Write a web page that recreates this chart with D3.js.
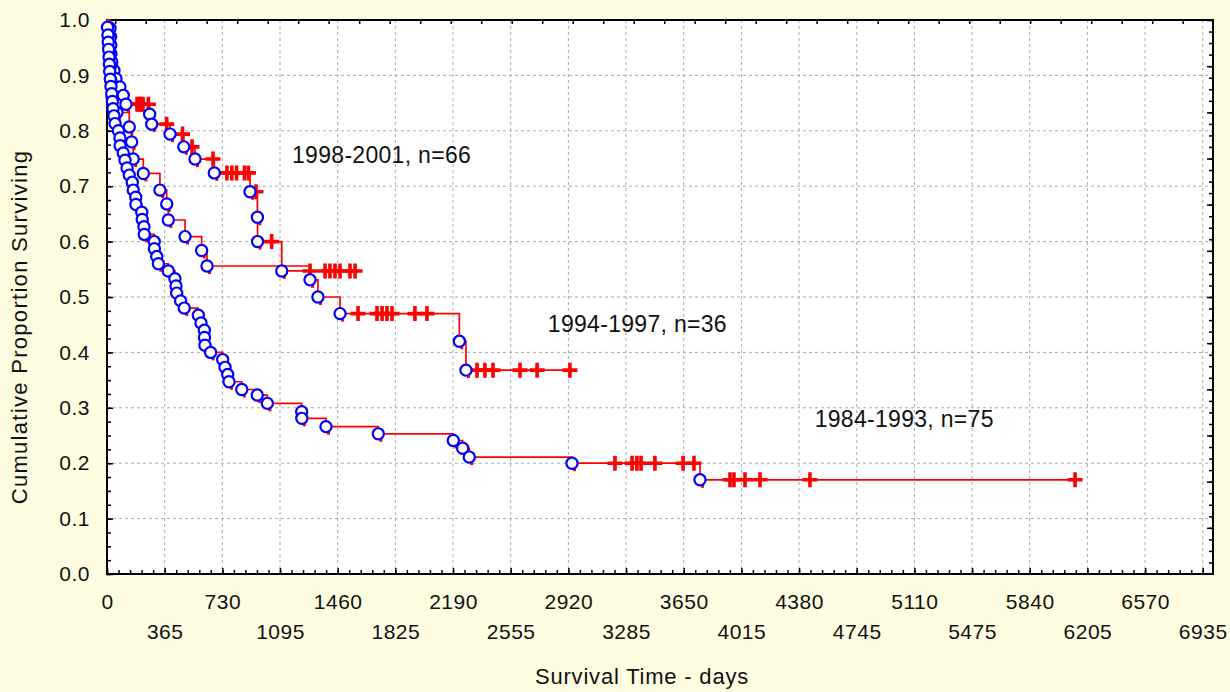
<!DOCTYPE html>
<html>
<head>
<meta charset="utf-8">
<script src="https://cdn.jsdelivr.net/npm/d3@7"></script>
<style>
  body { margin: 0; background: #fffde1; }
  svg { display: block; }
  text { font-family: "Liberation Sans", Arial, sans-serif; fill: #111; }
</style>
</head>
<body>
<script>
// Kaplan-Meier steps: [day, survival after the event]
const deaths98 = [[19,.985],[23,.970],[24,.955],[25,.939],[30,.924],[44,.909],[57,.894],[82,.879],[103,.864],[120,.848],
  [270,.830],[283,.812],[399,.794],[486,.771],[557,.749],[679,.724],[905,.690],[952,.644],[953,.600],[1106,.547]]
const censored98 = [[190,.848],[203,.848],[215,.848],[228,.848],[262,.848],[378,.812],[478,.794],[538,.771],[671,.749],
  [759,.724],[790,.724],[820,.724],[870,.724],[895,.724],[943,.690],[1042,.600],
  [1285,.547],[1380,.547],[1411,.547],[1443,.547],[1475,.547],[1538,.547],[1570,.547]]

const deaths94 = [[9,.972],[16,.944],[22,.917],[26,.889],[32,.861],[63,.833],[141,.807],[156,.780],[166,.749],[230,.723],
  [335,.693],[378,.668],[388,.639],[494,.609],[599,.584],[633,.556],[1285,.531],[1335,.500],[1475,.470],[2230,.420],[2272,.368]]
const censored94 = [[1589,.47],[1709,.47],[1741,.47],[1772,.47],[1804,.47],[1949,.47],[2025,.47],
  [2342,.368],[2392,.368],[2443,.368],[2614,.368],[2722,.368],[2930,.368]]

const deaths84 = [[3,.987],[6,.973],[8,.960],[10,.947],[13,.933],[15,.920],[17,.907],[21,.893],[25,.880],[30,.867],
  [34,.853],[38,.840],[44,.827],[51,.813],[72,.800],[82,.787],[83,.773],[103,.760],[114,.747],[127,.733],[141,.720],
  [160,.707],[166,.693],[182,.680],[183,.667],[220,.653],[223,.640],[234,.627],[236,.613],[299,.600],[300,.587],
  [315,.573],[325,.560],[388,.547],[430,.533],[437,.520],[441,.507],[466,.493],[489,.480],[578,.467],[595,.453],
  [616,.440],[617,.427],[620,.413],[656,.400],[732,.387],[747,.373],[764,.360],[772,.347],[853,.333],[951,.323],
  [1015,.308],[1232,.293],[1233,.281],[1386,.266],[1717,.253],[2192,.241],[2251,.227],[2293,.211],[2943,.200],[3753,.170]]
const censored84 = [[3215,.2],[3323,.2],[3354,.2],[3380,.2],[3468,.2],[3646,.2],[3715,.2],
  [3943,.17],[3968,.17],[4038,.17],[4133,.17],[4449,.17],[6127,.17]]

const groups = [
  { label: '1998-2001, n=66', deaths: deaths98, censored: censored98, at: [1171, 0.741] },
  { label: '1994-1997, n=36', deaths: deaths94, censored: censored94, at: [2790, 0.437] },
  { label: '1984-1993, n=75', deaths: deaths84, censored: censored84, at: [4479, 0.265] }
]

const xTicks = d3.range(0, 6936, 365)
const yTicks = d3.range(0, 1.01, 0.1)

const w = 1230
const h = 692
const m = { left: 107, top: 20, right: 1213, bottom: 574 }

const svg = d3.select('body').append('svg')
  .attr('width', w)
  .attr('height', h)

svg.append('rect')
  .attr('x', m.left).attr('y', m.top)
  .attr('width', m.right - m.left).attr('height', m.bottom - m.top)
  .attr('fill', '#fff')

const x = d3.scaleLinear().domain([0, 7000]).range([m.left, m.right])
const y = d3.scaleLinear().domain([0, 1]).range([m.bottom, m.top])

// grid
svg.append('g').selectAll('line')
  .data(xTicks.slice(1))
  .join('line')
  .attr('x1', d => x(d)).attr('x2', d => x(d))
  .attr('y1', m.top).attr('y2', m.bottom)
  .attr('stroke', '#aaa').attr('stroke-dasharray', '3,3')

svg.append('g').selectAll('line')
  .data(yTicks.slice(1, -1))
  .join('line')
  .attr('x1', m.left).attr('x2', m.right)
  .attr('y1', d => y(d)).attr('y2', d => y(d))
  .attr('stroke', '#aaa').attr('stroke-dasharray', '3,3')

// axes
svg.append('g')
  .attr('transform', `translate(${m.left},0)`)
  .call(d3.axisLeft(y).tickValues(yTicks).tickSize(-6).tickPadding(17).tickFormat(d3.format('.1f')))
svg.append('g')
  .attr('transform', `translate(${m.left},0)`)
  .call(d3.axisLeft(y).tickValues(d3.range(0, 1, 0.025)).tickSize(-4).tickFormat(''))

const xAxis = svg.append('g')
  .attr('transform', `translate(0,${m.bottom})`)
  .call(d3.axisBottom(x).tickValues(xTicks).tickSize(-6).tickFormat(d3.format('d')))
xAxis.selectAll('text')
  .attr('y', (d, i) => i % 2 ? 65 : 35)
  .attr('dy', 0)
svg.append('g')
  .attr('transform', `translate(0,${m.bottom})`)
  .call(d3.axisBottom(x).tickValues(d3.range(0, 7000, 73)).tickSize(-4).tickFormat(''))

const topScale = d3.scaleLinear().domain([0, 35]).range([115.2, 1182.7])
svg.append('g')
  .attr('transform', `translate(0,${m.top})`)
  .call(d3.axisTop(topScale).tickValues(d3.range(0, 36)).tickSize(-4).tickFormat(''))

const rightScale = d3.scaleLinear().domain([0, 12]).range([m.top, m.bottom])
svg.append('g')
  .attr('transform', `translate(${m.right},0)`)
  .call(d3.axisRight(rightScale).tickValues(d3.range(0, 12)).tickSize(-6).tickFormat(''))
svg.append('g')
  .attr('transform', `translate(${m.right},0)`)
  .call(d3.axisRight(rightScale).tickValues(d3.range(0, 12, 0.25)).tickSize(-4).tickFormat(''))

svg.selectAll('.domain').remove()
svg.selectAll('.tick line').attr('stroke', '#000').attr('stroke-width', 1.5)
svg.selectAll('.tick text')
  .style('font-size', '21px')
  .style('letter-spacing', '0.5px')
  .attr('fill', '#111')

svg.append('rect')
  .attr('x', m.left).attr('y', m.top)
  .attr('width', m.right - m.left).attr('height', m.bottom - m.top)
  .attr('fill', 'none').attr('stroke', '#000').attr('stroke-width', 2)

// curves
const line = d3.line()
  .x(d => x(d[0]))
  .y(d => y(d[1]))
  .curve(d3.curveStepAfter)

groups.forEach(g => {
  const last = g.deaths[g.deaths.length - 1]
  const end = Math.max(last[0], d3.max(g.censored, d => d[0]))
  const pts = [[0, 1], ...g.deaths, [end, last[1]]]

  svg.append('path')
    .datum(pts)
    .attr('d', line)
    .attr('fill', 'none')
    .attr('stroke', '#ff0000')
    .attr('stroke-width', 1.7)

  svg.append('g').selectAll('path')
    .data(g.censored)
    .join('path')
    .attr('d', d => `M${x(d[0]) - 7.5},${y(d[1])}h15M${x(d[0])},${y(d[1]) - 7.5}v15`)
    .attr('stroke', '#ff0000')
    .attr('stroke-width', 3.6)
    .attr('fill', 'none')
})

groups.forEach(g => {
  svg.append('g').selectAll('rect')
    .data(g.deaths)
    .join('rect')
    .attr('x', d => x(d[0]) + 1)
    .attr('y', d => y(d[1]) + 5)
    .attr('width', 3).attr('height', 3)
    .attr('fill', '#ff0000')

  svg.append('g').selectAll('circle')
    .data(g.deaths)
    .join('circle')
    .attr('cx', d => x(d[0]))
    .attr('cy', d => y(d[1]))
    .attr('r', 5.6)
    .attr('fill', '#fff')
    .attr('stroke', '#0000ff')
    .attr('stroke-width', 2.2)
})

// labels
svg.append('g').selectAll('text')
  .data(groups)
  .join('text')
  .attr('x', d => x(d.at[0]))
  .attr('y', d => y(d.at[1]))
  .style('font-size', '23px')
  .style('letter-spacing', '0.3px')
  .text(d => d.label)

svg.append('text')
  .attr('x', 642)
  .attr('y', 684)
  .attr('text-anchor', 'middle')
  .style('font-size', '22px')
  .style('letter-spacing', '0.8px')
  .text('Survival Time - days')

svg.append('text')
  .attr('transform', 'translate(27,327) rotate(-90)')
  .attr('text-anchor', 'middle')
  .style('font-size', '22px')
  .style('letter-spacing', '1.3px')
  .text('Cumulative Proportion Surviving')
</script>
</body>
</html>
